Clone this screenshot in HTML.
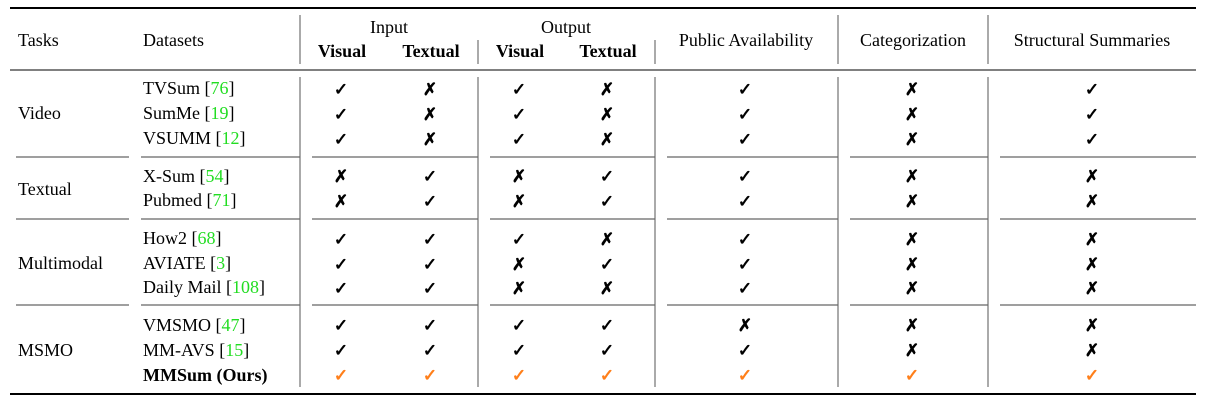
<!DOCTYPE html>
<html><head><meta charset="utf-8"><style>
html,body{margin:0;padding:0;background:#fff;}
svg{display:block}
text{font-family:"Liberation Serif",serif;font-size:18px;fill:#000}
.c{text-anchor:middle}
.b{font-weight:bold}
.g{fill:#22dd22}
.m{font-family:"DejaVu Sans",sans-serif;font-size:17px;text-anchor:middle;stroke:#000;stroke-width:0.7}
.o{fill:#ff7f1a;stroke:#ff7f1a}
</style></head><body>
<svg width="1206" height="403" viewBox="0 0 1206 403" xmlns="http://www.w3.org/2000/svg">
<line x1="10" y1="8" x2="1196" y2="8" stroke="#000" stroke-width="2"/>
<line x1="10" y1="70" x2="1196" y2="70" stroke="#000" stroke-width="1"/>
<line x1="10" y1="394" x2="1196" y2="394" stroke="#000" stroke-width="2"/>
<g stroke="#555" stroke-width="1">
<line x1="300" y1="15" x2="300" y2="64"/>
<line x1="478" y1="40" x2="478" y2="64"/>
<line x1="655" y1="40" x2="655" y2="64"/>
<line x1="838" y1="15" x2="838" y2="64"/>
<line x1="988" y1="15" x2="988" y2="64"/>
<line x1="300" y1="77" x2="300" y2="387"/>
<line x1="478" y1="77" x2="478" y2="387"/>
<line x1="655" y1="77" x2="655" y2="387"/>
<line x1="838" y1="77" x2="838" y2="387"/>
<line x1="988" y1="77" x2="988" y2="387"/>
</g>
<g stroke="#666" stroke-width="1.2">
<line x1="16" y1="157" x2="129" y2="157"/><line x1="141" y1="157" x2="300" y2="157"/><line x1="312" y1="157" x2="478" y2="157"/><line x1="490" y1="157" x2="655" y2="157"/><line x1="667" y1="157" x2="838" y2="157"/><line x1="850" y1="157" x2="988" y2="157"/><line x1="1000" y1="157" x2="1196" y2="157"/>
<line x1="16" y1="219" x2="129" y2="219"/><line x1="141" y1="219" x2="300" y2="219"/><line x1="312" y1="219" x2="478" y2="219"/><line x1="490" y1="219" x2="655" y2="219"/><line x1="667" y1="219" x2="838" y2="219"/><line x1="850" y1="219" x2="988" y2="219"/><line x1="1000" y1="219" x2="1196" y2="219"/>
<line x1="16" y1="305" x2="129" y2="305"/><line x1="141" y1="305" x2="300" y2="305"/><line x1="312" y1="305" x2="478" y2="305"/><line x1="490" y1="305" x2="655" y2="305"/><line x1="667" y1="305" x2="838" y2="305"/><line x1="850" y1="305" x2="988" y2="305"/><line x1="1000" y1="305" x2="1196" y2="305"/>
</g>
<text x="18" y="46">Tasks</text>
<text x="143" y="46">Datasets</text>
<text class="c" x="389" y="33">Input</text>
<text class="c" x="566" y="33">Output</text>
<text class="c b" x="342" y="57">Visual</text>
<text class="c b" x="431" y="57">Textual</text>
<text class="c b" x="520" y="57">Visual</text>
<text class="c b" x="608" y="57">Textual</text>
<text class="c" x="746" y="46">Public Availability</text>
<text class="c" x="913" y="46">Categorization</text>
<text class="c" x="1092" y="46">Structural Summaries</text>

<text x="18" y="119">Video</text>
<text x="18" y="195">Textual</text>
<text x="18" y="269">Multimodal</text>
<text x="18" y="356">MSMO</text>

<text x="143" y="94">TVSum [<tspan class="g">76</tspan>]</text>
<text x="143" y="119">SumMe [<tspan class="g">19</tspan>]</text>
<text x="143" y="144">VSUMM [<tspan class="g">12</tspan>]</text>
<text x="143" y="182">X-Sum [<tspan class="g">54</tspan>]</text>
<text x="143" y="206">Pubmed [<tspan class="g">71</tspan>]</text>
<text x="143" y="244">How2 [<tspan class="g">68</tspan>]</text>
<text x="143" y="269">AVIATE [<tspan class="g">3</tspan>]</text>
<text x="143" y="293">Daily Mail [<tspan class="g">108</tspan>]</text>
<text x="143" y="331">VMSMO [<tspan class="g">47</tspan>]</text>
<text x="143" y="356">MM-AVS [<tspan class="g">15</tspan>]</text>
<text x="143" y="381" class="b">MMSum (Ours)</text>

<g>
<text class="m" x="341" y="95">✓</text><text class="m" x="430" y="95">✗</text><text class="m" x="519" y="95">✓</text><text class="m" x="607" y="95">✗</text><text class="m" x="745" y="95">✓</text><text class="m" x="912" y="95">✗</text><text class="m" x="1092" y="95">✓</text>
<text class="m" x="341" y="120">✓</text><text class="m" x="430" y="120">✗</text><text class="m" x="519" y="120">✓</text><text class="m" x="607" y="120">✗</text><text class="m" x="745" y="120">✓</text><text class="m" x="912" y="120">✗</text><text class="m" x="1092" y="120">✓</text>
<text class="m" x="341" y="145">✓</text><text class="m" x="430" y="145">✗</text><text class="m" x="519" y="145">✓</text><text class="m" x="607" y="145">✗</text><text class="m" x="745" y="145">✓</text><text class="m" x="912" y="145">✗</text><text class="m" x="1092" y="145">✓</text>

<text class="m" x="341" y="182">✗</text><text class="m" x="430" y="182">✓</text><text class="m" x="519" y="182">✗</text><text class="m" x="607" y="182">✓</text><text class="m" x="745" y="182">✓</text><text class="m" x="912" y="182">✗</text><text class="m" x="1092" y="182">✗</text>
<text class="m" x="341" y="207">✗</text><text class="m" x="430" y="207">✓</text><text class="m" x="519" y="207">✗</text><text class="m" x="607" y="207">✓</text><text class="m" x="745" y="207">✓</text><text class="m" x="912" y="207">✗</text><text class="m" x="1092" y="207">✗</text>

<text class="m" x="341" y="245">✓</text><text class="m" x="430" y="245">✓</text><text class="m" x="519" y="245">✓</text><text class="m" x="607" y="245">✗</text><text class="m" x="745" y="245">✓</text><text class="m" x="912" y="245">✗</text><text class="m" x="1092" y="245">✗</text>
<text class="m" x="341" y="270">✓</text><text class="m" x="430" y="270">✓</text><text class="m" x="519" y="270">✗</text><text class="m" x="607" y="270">✓</text><text class="m" x="745" y="270">✓</text><text class="m" x="912" y="270">✗</text><text class="m" x="1092" y="270">✗</text>
<text class="m" x="341" y="294">✓</text><text class="m" x="430" y="294">✓</text><text class="m" x="519" y="294">✗</text><text class="m" x="607" y="294">✗</text><text class="m" x="745" y="294">✓</text><text class="m" x="912" y="294">✗</text><text class="m" x="1092" y="294">✗</text>

<text class="m" x="341" y="331">✓</text><text class="m" x="430" y="331">✓</text><text class="m" x="519" y="331">✓</text><text class="m" x="607" y="331">✓</text><text class="m" x="745" y="331">✗</text><text class="m" x="912" y="331">✗</text><text class="m" x="1092" y="331">✗</text>
<text class="m" x="341" y="356">✓</text><text class="m" x="430" y="356">✓</text><text class="m" x="519" y="356">✓</text><text class="m" x="607" y="356">✓</text><text class="m" x="745" y="356">✓</text><text class="m" x="912" y="356">✗</text><text class="m" x="1092" y="356">✗</text>
<text class="m o" x="341" y="381">✓</text><text class="m o" x="430" y="381">✓</text><text class="m o" x="519" y="381">✓</text><text class="m o" x="607" y="381">✓</text><text class="m o" x="745" y="381">✓</text><text class="m o" x="912" y="381">✓</text><text class="m o" x="1092" y="381">✓</text>
</g>
</svg>
</body></html>
